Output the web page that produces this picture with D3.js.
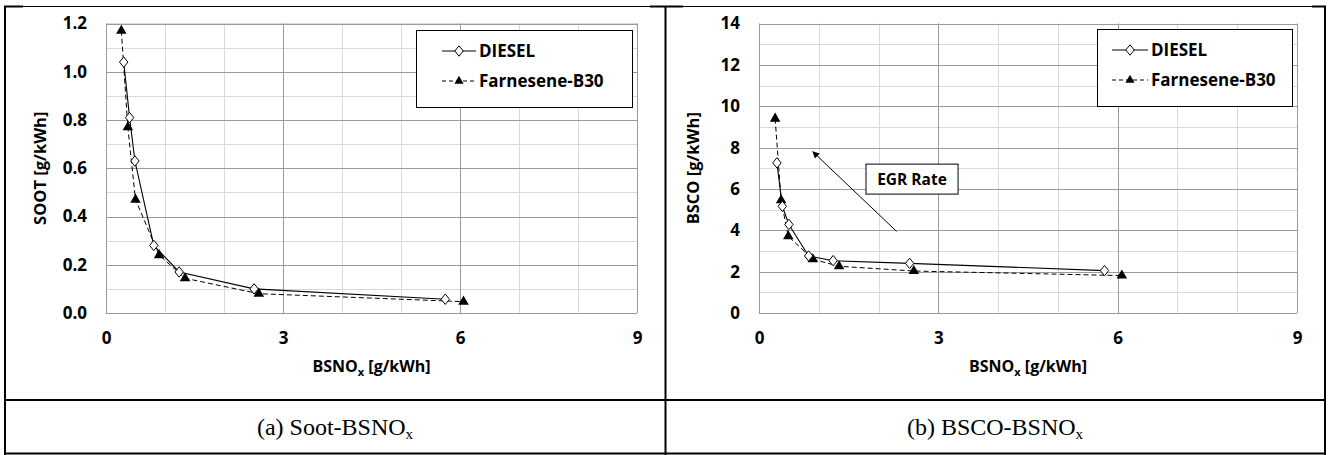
<!DOCTYPE html>
<html><head><meta charset="utf-8">
<script src="https://cdn.jsdelivr.net/npm/d3@7"></script>
<style>
body{margin:0;background:#fff;}
svg{display:block;}
</style></head>
<body>
<svg id="chart" width="1328" height="455"></svg>
<script>
// ---- data ----
const xTicks = [0, 3, 6, 9];
const sootTicks = [0, 0.2, 0.4, 0.6, 0.8, 1.0, 1.2];
const bscoTicks = [0, 2, 4, 6, 8, 10, 12, 14];
const seriesNames = ["DIESEL", "Farnesene-B30"];

const noxDieselA = [0.30, 0.40, 0.49, 0.81, 1.24, 2.51, 5.75];
const sootDiesel = [1.04, 0.81, 0.63, 0.28, 0.17, 0.10, 0.057];
const noxFarnA   = [0.26, 0.37, 0.50, 0.90, 1.34, 2.59, 6.06];
const sootFarn   = [1.17, 0.77, 0.47, 0.24, 0.144, 0.08, 0.047];

const noxDieselB = [0.30, 0.39, 0.50, 0.83, 1.24, 2.52, 5.78];
const bscoDiesel = [7.26, 5.16, 4.28, 2.76, 2.53, 2.40, 2.05];
const noxFarnB   = [0.27, 0.37, 0.49, 0.90, 1.34, 2.59, 6.07];
const bscoFarn   = [9.40, 5.45, 3.71, 2.60, 2.26, 2.03, 1.81];

const captions = ["(a) Soot-BSNO", "(b) BSCO-BSNO"];

// ---- drawing ----
const svg = d3.select("#chart");
const FONT = "'Open Sans', Lato, sans-serif";

// table frame
const frame = svg.append("g").attr("stroke", "#000").attr("fill", "none");
frame.append("line").attr("x1", 4).attr("x2", 1326).attr("y1", 6.5).attr("y2", 6.5).attr("stroke-width", 1.2);
frame.append("line").attr("x1", 4).attr("x2", 23).attr("y1", 6.5).attr("y2", 6.5).attr("stroke-width", 2);
frame.append("line").attr("x1", 650).attr("x2", 683).attr("y1", 6.5).attr("y2", 6.5).attr("stroke-width", 2);
frame.append("line").attr("x1", 1312).attr("x2", 1326).attr("y1", 6.5).attr("y2", 6.5).attr("stroke-width", 2);
frame.append("line").attr("x1", 5).attr("x2", 5).attr("y1", 6).attr("y2", 455).attr("stroke-width", 2);
frame.append("line").attr("x1", 665.5).attr("x2", 665.5).attr("y1", 6).attr("y2", 455).attr("stroke-width", 2);
frame.append("line").attr("x1", 1325).attr("x2", 1325).attr("y1", 6).attr("y2", 455).attr("stroke-width", 2);
frame.append("line").attr("x1", 4).attr("x2", 1326).attr("y1", 400).attr("y2", 400).attr("stroke-width", 2);
frame.append("line").attr("x1", 4).attr("x2", 1326).attr("y1", 453.5).attr("y2", 453.5).attr("stroke-width", 2);

function drawChart(cfg) {
  const g = svg.append("g");
  const x = d3.scaleLinear().domain([0, 9]).range([cfg.left, cfg.right]);
  const y = d3.scaleLinear().domain([0, cfg.ymax]).range([313, 23.5]);

  // minor grid
  const minorX = d3.range(0, 9.001, 1);
  const minorY = d3.range(0, cfg.ymax + 1e-9, cfg.minor);
  g.append("g").selectAll("line").data(minorX).join("line")
    .attr("x1", d => Math.round(x(d)) + 0.5).attr("x2", d => Math.round(x(d)) + 0.5)
    .attr("y1", y(cfg.ymax)).attr("y2", y(0))
    .attr("stroke", "#d9d9d9").attr("stroke-width", 1);
  g.append("g").selectAll("line").data(minorY).join("line")
    .attr("x1", x(0)).attr("x2", x(9))
    .attr("y1", d => Math.round(y(d)) + 0.5).attr("y2", d => Math.round(y(d)) + 0.5)
    .attr("stroke", "#d9d9d9").attr("stroke-width", 1);
  // major grid
  g.append("g").selectAll("line").data(xTicks).join("line")
    .attr("x1", d => Math.round(x(d)) + 0.5).attr("x2", d => Math.round(x(d)) + 0.5)
    .attr("y1", y(cfg.ymax)).attr("y2", y(0))
    .attr("stroke", "#9a9a9a").attr("stroke-width", 1);
  g.append("g").selectAll("line").data(cfg.yTicks).join("line")
    .attr("x1", x(0)).attr("x2", x(9))
    .attr("y1", d => Math.round(y(d)) + 0.5).attr("y2", d => Math.round(y(d)) + 0.5)
    .attr("stroke", "#9a9a9a").attr("stroke-width", 1);

  // axes (labels only, using d3 axes)
  const xAxis = g.append("g").attr("transform", `translate(0,${y(0)})`)
    .call(d3.axisBottom(x).tickValues(xTicks).tickSize(0).tickPadding(19).tickFormat(d3.format("d")));
  xAxis.select(".domain").remove();
  xAxis.selectAll("text").attr("font-family", FONT).attr("font-weight", "bold").attr("font-size", 17).attr("fill", "#000");

  const yAxis = g.append("g").attr("transform", `translate(${x(0)},0)`)
    .call(d3.axisLeft(y).tickValues(cfg.yTicks).tickSize(0).tickPadding(19).tickFormat(cfg.fmt));
  yAxis.select(".domain").remove();
  yAxis.selectAll("text").attr("font-family", FONT).attr("font-weight", "bold").attr("font-size", 17).attr("fill", "#000");

  // axis titles
  const xt = g.append("text").attr("x", (cfg.left + cfg.right) / 2).attr("y", 372)
    .attr("text-anchor", "middle").attr("font-family", FONT).attr("font-weight", "bold").attr("font-size", 16);
  xt.append("tspan").text("BSNO");
  xt.append("tspan").text("x").attr("font-size", 11).attr("dy", 4);
  xt.append("tspan").text(" [g/kWh]").attr("dy", -4);

  g.append("text").attr("transform", `translate(${cfg.left - 60},${(23.5 + 313) / 2}) rotate(-90)`)
    .attr("text-anchor", "middle").attr("font-family", FONT).attr("font-weight", "bold").attr("font-size", 16.5)
    .text(cfg.ytitle);

  // annotation
  if (cfg.arrow) {
    const a = cfg.arrow;
    const defs = svg.append("defs");
    defs.append("marker").attr("id", "ah").attr("viewBox", "0 0 10 10").attr("refX", 9).attr("refY", 5)
      .attr("markerWidth", 7).attr("markerHeight", 7).attr("orient", "auto")
      .append("path").attr("d", "M0,0 L10,5 L0,10 z").attr("fill", "#000");
    g.append("line").attr("x1", x(a.from[0])).attr("y1", y(a.from[1]))
      .attr("x2", x(a.to[0])).attr("y2", y(a.to[1]))
      .attr("stroke", "#000").attr("stroke-width", 1).attr("marker-end", "url(#ah)");
    g.append("rect").attr("x", x(a.box[0])).attr("y", y(a.box[3]))
      .attr("width", x(a.box[2]) - x(a.box[0])).attr("height", y(a.box[1]) - y(a.box[3]))
      .attr("fill", "#fff").attr("stroke", "#000").attr("stroke-width", 1);
    g.append("text").attr("x", (x(a.box[0]) + x(a.box[2])) / 2).attr("y", (y(a.box[1]) + y(a.box[3])) / 2 + 5.5)
      .attr("text-anchor", "middle").attr("font-family", FONT).attr("font-weight", "bold").attr("font-size", 15.5)
      .text(a.label);
  }

  // series
  const diesel = cfg.dx.map((v, i) => [v, cfg.dy[i]]);
  const farn = cfg.fx.map((v, i) => [v, cfg.fy[i]]);
  const line = d3.line().x(d => x(d[0])).y(d => y(d[1]));

  g.append("path").datum(farn).attr("d", line).attr("fill", "none").attr("stroke", "#000")
    .attr("stroke-width", 1).attr("stroke-dasharray", "5,3");
  g.append("path").datum(diesel).attr("d", line).attr("fill", "none").attr("stroke", "#000")
    .attr("stroke-width", 1.1);

  const tri = d3.symbol().type(d3.symbolTriangle).size(48);
  g.append("g").selectAll("path").data(farn).join("path")
    .attr("d", tri).attr("transform", d => `translate(${x(d[0])},${y(d[1])})`).attr("fill", "#000");
  const dia = "M0,-5.2 L4.2,0 L0,5.2 L-4.2,0 Z";
  g.append("g").selectAll("path").data(diesel).join("path")
    .attr("d", dia).attr("transform", d => `translate(${x(d[0])},${y(d[1])})`)
    .attr("fill", "#fff").attr("stroke", "#000").attr("stroke-width", 1);

  // legend
  const L = cfg.legend;
  const lg = g.append("g");
  lg.append("rect").attr("x", L.x + 0.5).attr("y", L.y + 0.5).attr("width", L.w).attr("height", L.h)
    .attr("fill", "#fff").attr("stroke", "#000").attr("stroke-width", 1);
  const rows = [
    {name: seriesNames[0], dash: null, sym: "dia", yy: L.y + 21},
    {name: seriesNames[1], dash: "4,3", sym: "tri", yy: L.y + 51}
  ];
  rows.forEach(r => {
    lg.append("line").attr("x1", L.x + L.lx0).attr("x2", L.x + L.lx1).attr("y1", r.yy).attr("y2", r.yy)
      .attr("stroke", "#000").attr("stroke-width", 1).attr("stroke-dasharray", r.dash);
    const cx = L.x + (L.lx0 + L.lx1) / 2;
    if (r.sym === "dia") {
      lg.append("path").attr("d", dia).attr("transform", `translate(${cx},${r.yy})`)
        .attr("fill", "#fff").attr("stroke", "#000");
    } else {
      lg.append("path").attr("d", d3.symbol().type(d3.symbolTriangle).size(36)).attr("transform", `translate(${cx},${r.yy})`)
        .attr("fill", "#000");
    }
    lg.append("text").attr("x", L.x + L.lx1 + 3).attr("y", r.yy + 6)
      .attr("font-family", FONT).attr("font-weight", "bold").attr("font-size", 17).text(r.name);
  });

  // caption
  const cap = svg.append("text").attr("x", cfg.capX).attr("y", 435).attr("text-anchor", "middle")
    .attr("font-family", "'Liberation Serif', 'Times New Roman', serif").attr("font-size", 24);
  cap.append("tspan").text(cfg.caption);
  cap.append("tspan").text("x").attr("font-size", 15).attr("dy", 4);
}

drawChart({
  left: 106, right: 637, ymax: 1.2, minor: 0.1, yTicks: sootTicks, fmt: d3.format(".1f"),
  ytitle: "SOOT [g/kWh]", dx: noxDieselA, dy: sootDiesel, fx: noxFarnA, fy: sootFarn,
  legend: {x: 416, y: 30, w: 216, h: 77, lx0: 26, lx1: 60},
  caption: captions[0], capX: 335
});
drawChart({
  left: 759, right: 1297, ymax: 14, minor: 1, yTicks: bscoTicks, fmt: d3.format("d"),
  ytitle: "BSCO [g/kWh]", dx: noxDieselB, dy: bscoDiesel, fx: noxFarnB, fy: bscoFarn,
  legend: {x: 1097, y: 29, w: 195, h: 77, lx0: 15, lx1: 51},
  arrow: {from: [2.3, 3.95], to: [0.9, 7.8], box: [1.79, 5.75, 3.33, 7.2], label: "EGR Rate"},
  caption: captions[1], capX: 995
});
</script>
</body></html>
